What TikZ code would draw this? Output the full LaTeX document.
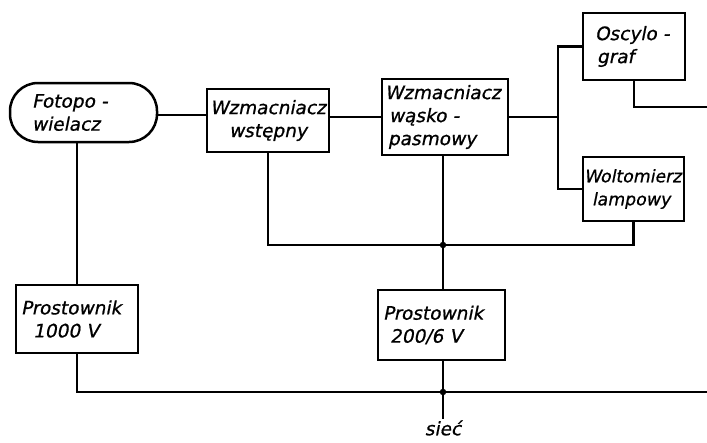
\documentclass[tikz,border=0pt]{standalone}
\usepackage{fontspec}
\setmainfont{DejaVu Sans}
\newfontfamily\lettering[FakeBold=0.8,FakeSlant=0.2]{DejaVu Sans}
\begin{document}
\begin{tikzpicture}[x=1pt,y=-1pt,
  box/.style={draw,line width=2.5pt,inner ysep=0pt,align=left,
    font=\lettering\fontsize{18.5}{23}\selectfont},
  wire/.style={line width=2.1pt},
  dot/.style={circle,fill,inner sep=0pt,minimum size=6.5pt}]
\useasboundingbox (0,0) rectangle (707,442);
\node[box,rounded corners=28pt,minimum height=59pt,inner xsep=22pt,text width=103pt] (foto) at (83.5,112.5) {Fotopo -\\wielacz};
\node[box,minimum height=63pt,inner xsep=2pt,text width=118pt,align=center] (wst) at (268,120.5) {Wzmacniacz\\wstępny};
\node[box,minimum height=76pt,inner xsep=3pt,text width=120pt] (wask) at (445,117) {Wzmacniacz\\\hspace*{4pt}wąsko -\\\hspace*{3pt}pasmowy};
\node[box,minimum height=67pt,inner xsep=12pt,text width=78pt] (osc) at (634,46.5) {Oscylo -\\\hspace*{2pt}graf};
\node[box,minimum height=64pt,inner xsep=1pt,text width=99pt,font=\lettering\fontsize{17.3}{23}\selectfont] (wol) at (633.5,189) {Woltomierz\\\hspace*{8pt}lampowy};
\node[box,minimum height=68pt,inner xsep=5pt,text width=112pt] (p1) at (77,319) {Prostownik\\\hspace*{12pt}1000 V};
\node[box,minimum height=70pt,inner xsep=5pt,text width=117pt] (p2) at (441.5,325) {Prostownik\\\hspace*{7pt}200/6 V};
\node[font=\lettering\fontsize{18.5}{20}\selectfont,inner sep=1pt] (siec) at (443,428) {sieć};

\coordinate (br) at (558,117);
\coordinate (j1) at (443,245);
\coordinate (j2) at (443,392);
\coordinate (oend) at (707,107);
\coordinate (rend) at (707,392);

\draw[wire] (foto.east |- 0,115) -- (wst.west |- 0,115);
\draw[wire] (wask.west -| wst.east) -- (wask.west);
\draw[wire] (wask.east) -- (br);
\draw[wire] (osc.west) -| (br) |- (wol.west);
\draw[wire] (osc.south) |- (oend);
\draw[wire] (foto.south -| p1.north) -- (p1.north);
\draw[wire] (wst.south) |- (j1) -| (wol.south);
\draw[wire] (wask.south -| j1) -- (p2.north -| j1);
\draw[wire] (p1.south) |- (rend);
\draw[wire] (p2.south -| j2) -- (j2) -- (siec.north);
\node[dot] (d1) at (j1) {};
\node[dot] (d2) at (j2) {};
\end{tikzpicture}
\end{document}
